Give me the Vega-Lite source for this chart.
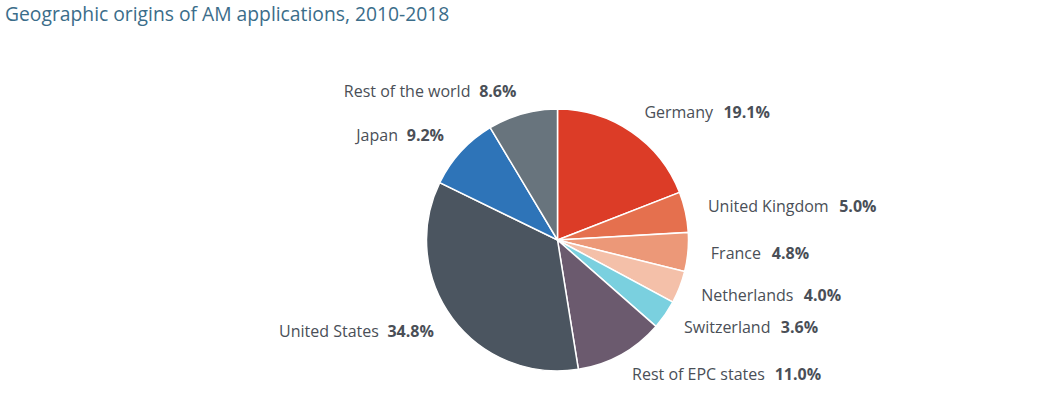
{
  "$schema": "https://vega.github.io/schema/vega-lite/v6.json",
  "autosize": "none",
  "width": 1013,
  "height": 340,
  "padding": {"left": 51, "top": 70, "right": 0, "bottom": 0},
  "background": "white",
  "title": {
    "text": "Geographic origins of AM applications, 2010-2018",
    "anchor": "start",
    "dx": -46,
    "offset": 45,
    "font": "Open Sans",
    "fontSize": 19.3,
    "fontWeight": "normal",
    "color": "#3b6d8a"
  },
  "config": {"view": {"stroke": null}},
  "data": {
    "values": [
      {"idx": 1, "name": "Germany", "value": 19.1, "label": "19.1%"},
      {"idx": 2, "name": "United Kingdom", "value": 5.0, "label": "5.0%"},
      {"idx": 3, "name": "France", "value": 4.8, "label": "4.8%"},
      {"idx": 4, "name": "Netherlands", "value": 4.0, "label": "4.0%"},
      {"idx": 5, "name": "Switzerland", "value": 3.6, "label": "3.6%"},
      {"idx": 6, "name": "Rest of EPC states", "value": 11.0, "label": "11.0%"},
      {"idx": 7, "name": "United States", "value": 34.8, "label": "34.8%"},
      {"idx": 8, "name": "Japan", "value": 9.2, "label": "9.2%"},
      {"idx": 9, "name": "Rest of the world", "value": 8.6, "label": "8.6%"}
    ]
  },
  "transform": [
    {"window": [{"op": "sum", "field": "value", "as": "cum"}], "sort": [{"field": "idx", "order": "ascending"}], "frame": [null, 0]}
  ],
  "encoding": {
    "theta": {"field": "value", "type": "quantitative", "stack": true},
    "order": {"field": "idx", "type": "quantitative"}
  },
  "layer": [
    {
      "mark": {"type": "arc", "outerRadius": 131, "stroke": "white", "strokeWidth": 1.5},
      "encoding": {
        "color": {
          "field": "name",
          "type": "nominal",
          "legend": null,
          "scale": {
            "domain": ["Germany", "United Kingdom", "France", "Netherlands", "Switzerland", "Rest of EPC states", "United States", "Japan", "Rest of the world"],
            "range": ["#dc3c27", "#e5704e", "#ec9878", "#f4c0a9", "#7ad0df", "#6b5a6e", "#4b5560", "#2e74b8", "#68747d"]
          }
        }
      }
    },
    {
      "mark": {
        "type": "text",
        "radius": 154,
        "font": "Open Sans",
        "fontSize": 16,
        "color": "#4a4f57",
        "baseline": "middle",
        "align": {"expr": "(datum.cum - datum.value / 2) < 50 ? 'left' : 'right'"},
        "dx": {"expr": "(datum.cum - datum.value / 2) < 50 ? 0 : -(length(datum.label) * 9 + 10)"}
      },
      "encoding": {"text": {"field": "name"}}
    },
    {
      "mark": {
        "type": "text",
        "radius": 154,
        "font": "Open Sans",
        "fontSize": 16,
        "fontWeight": "bold",
        "color": "#4a4f57",
        "baseline": "middle",
        "align": {"expr": "(datum.cum - datum.value / 2) < 50 ? 'left' : 'right'"},
        "dx": {"expr": "(datum.cum - datum.value / 2) < 50 ? (16.3 * (0.25 * length(replace(datum.name, regexp('[^iljI. ]', 'g'), '')) + 0.35 * length(replace(datum.name, regexp('[^ft]', 'g'), '')) + 0.41 * length(replace(datum.name, regexp('[^r]', 'g'), '')) + 0.49 * length(replace(datum.name, regexp('[^cszy]', 'g'), '')) + 0.56 * length(replace(datum.name, regexp('[^aegkvxEFSPKR]', 'g'), '')) + 0.61 * length(replace(datum.name, regexp('[^dnhoubpqC]', 'g'), '')) + 0.74 * length(replace(datum.name, regexp('[^GUNw]', 'g'), '')) + 0.93 * length(replace(datum.name, regexp('[^mMW]', 'g'), ''))) + 9) : 0"}
      },
      "encoding": {"text": {"field": "label"}}
    }
  ]
}
